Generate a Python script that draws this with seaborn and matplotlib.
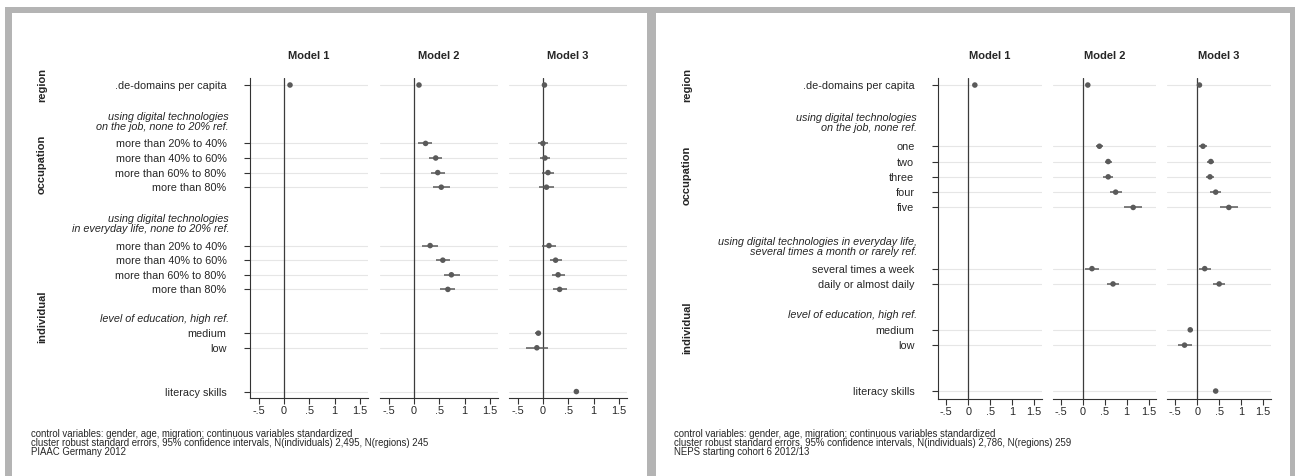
import numpy as np
import pandas as pd
import matplotlib
matplotlib.use("Agg")
import matplotlib.pyplot as plt
import matplotlib.transforms as mtransforms
from matplotlib.patches import Rectangle
import seaborn as sns

nan = np.nan

# =========================
# DATA - PIAAC Germany 2012 (left)
# =========================
piaac_labels = [".de-domains per capita",
                "more than 20% to 40%", "more than 40% to 60%", "more than 60% to 80%", "more than 80%",
                "more than 20% to 40%", "more than 40% to 60%", "more than 60% to 80%", "more than 80%",
                "medium", "low", "literacy skills"]
piaac_headings = ["using digital technologies\non the job, none to 20% ref.",
                  "using digital technologies\nin everyday life, none to 20% ref.",
                  "level of education, high ref."]
piaac_m1_coef = [0.12, nan, nan, nan, nan, nan, nan, nan, nan, nan, nan, nan]
piaac_m1_lo = [0.10, nan, nan, nan, nan, nan, nan, nan, nan, nan, nan, nan]
piaac_m1_hi = [0.14, nan, nan, nan, nan, nan, nan, nan, nan, nan, nan, nan]
piaac_m2_coef = [0.10, 0.23, 0.43, 0.47, 0.54, 0.32, 0.57, 0.74, 0.67, nan, nan, nan]
piaac_m2_lo = [0.08, 0.09, 0.30, 0.33, 0.37, 0.16, 0.43, 0.59, 0.51, nan, nan, nan]
piaac_m2_hi = [0.12, 0.36, 0.55, 0.61, 0.71, 0.47, 0.72, 0.90, 0.82, nan, nan, nan]
piaac_m3_coef = [0.03, 0.00, 0.04, 0.10, 0.07, 0.12, 0.25, 0.30, 0.33, -0.09, -0.12, 0.66]
piaac_m3_lo = [0.01, -0.09, -0.05, -0.01, -0.07, -0.01, 0.14, 0.17, 0.20, -0.16, -0.33, 0.63]
piaac_m3_hi = [0.05, 0.10, 0.13, 0.22, 0.22, 0.26, 0.37, 0.43, 0.47, -0.03, 0.10, 0.70]
piaac_note = ("control variables: gender, age, migration; continuous variables standardized\n"
              "cluster robust standard errors, 95% confidence intervals, N(individuals) 2,495, N(regions) 245\n"
              "PIAAC Germany 2012")

# =========================
# DATA - NEPS starting cohort 6 (right)
# =========================
neps_labels = [".de-domains per capita",
               "one", "two", "three", "four", "five",
               "several times a week", "daily or almost daily",
               "medium", "low", "literacy skills"]
neps_headings = ["using digital technologies\non the job, none ref.",
                 "using digital technologies in everyday life,\nseveral times a month or rarely ref.",
                 "level of education, high ref."]
neps_m1_coef = [0.15, nan, nan, nan, nan, nan, nan, nan, nan, nan, nan]
neps_m1_lo = [0.13, nan, nan, nan, nan, nan, nan, nan, nan, nan, nan]
neps_m1_hi = [0.17, nan, nan, nan, nan, nan, nan, nan, nan, nan, nan]
neps_m2_coef = [0.115, 0.38, 0.58, 0.58, 0.75, 1.15, 0.21, 0.69, nan, nan, nan]
neps_m2_lo = [0.09, 0.30, 0.50, 0.47, 0.62, 0.94, 0.05, 0.55, nan, nan, nan]
neps_m2_hi = [0.14, 0.46, 0.67, 0.69, 0.90, 1.36, 0.38, 0.83, nan, nan, nan]
neps_m3_coef = [0.05, 0.13, 0.31, 0.29, 0.42, 0.72, 0.17, 0.50, -0.16, -0.29, 0.42]
neps_m3_lo = [0.02, 0.05, 0.23, 0.20, 0.29, 0.52, 0.04, 0.37, -0.22, -0.45, 0.38]
neps_m3_hi = [0.08, 0.22, 0.39, 0.38, 0.55, 0.93, 0.31, 0.64, -0.10, -0.12, 0.46]
neps_note = ("control variables: gender, age, migration; continuous variables standardized\n"
             "cluster robust standard errors, 95% confidence intervals, N(individuals) 2,786, N(regions) 259\n"
             "NEPS starting cohort 6 2012/13")

group_names = ["region", "occupation", "individual"]
model_names = ["Model 1", "Model 2", "Model 3"]
xtick_vals = [-0.5, 0, 0.5, 1, 1.5]
xtick_labels = ["-.5", "0", ".5", "1", "1.5"]

# =========================
# LAYOUT (pixels / row slots)
# =========================
W, H = 1295, 476
piaac_rows = [0, 4, 5, 6, 7, 11, 12, 13, 14, 17, 18, 21]
piaac_head_rows = [2.5, 9.55, 16]
piaac_group_rows = [0, 5.4, 15.9]
neps_rows = [0, 4, 5, 6, 7, 8, 12, 13, 16, 17, 20]
neps_head_rows = [2.45, 10.6, 15]
neps_group_rows = [0, 5.9, 15.85]

sns.set_style("white")
plt.rcParams["font.family"] = ["Liberation Sans", "DejaVu Sans"]

DOT = "#5a5a5a"
fig = plt.figure(figsize=(W / 100, H / 100), dpi=100)

# gray frame like the screenshots
gray = "#b4b4b4"
for (x0, y0, x1, y1) in [(5, 7, 1295, 13), (5, 7, 12, 476), (647, 7, 656, 476), (1290, 7, 1295, 476)]:
    fig.add_artist(Rectangle((x0 / W, 1 - y1 / H), (x1 - x0) / W, (y1 - y0) / H,
                             transform=fig.transFigure, color=gray, lw=0, zorder=0))


def px_ax(left, top, width, bottom):
    return fig.add_axes([left / W, 1 - bottom / H, width / W, (bottom - top) / H])


def draw_panel(labels, headings, rows, head_rows, group_rows, models, lefts, width,
               top, bottom, ylim, xlim, group_x, note, note_x):
    for k, (coef, lo, hi) in enumerate(models):
        ax = px_ax(lefts[k], top, width, bottom)
        df = pd.DataFrame({"coef": coef, "lo": lo, "hi": hi, "row": rows}).dropna()
        ax.hlines(df["row"], df["lo"], df["hi"], color=DOT, lw=1.1, zorder=2)
        sns.scatterplot(data=df, x="coef", y="row", ax=ax, color=DOT, s=16,
                        edgecolor="none", legend=False, zorder=3)
        ax.axvline(0, color="#3c3c3c", lw=0.9, zorder=1)
        ax.set_xlim(*xlim)
        ax.set_ylim(*ylim)
        ax.set_xlabel("")
        ax.set_ylabel("")
        ax.set_yticks(rows)
        ax.yaxis.grid(True, color="#e6e6e6", lw=0.8)
        ax.set_axisbelow(True)
        ax.set_xticks(xtick_vals)
        ax.set_xticklabels(xtick_labels)
        ax.tick_params(axis="x", bottom=True, direction="out", length=4, width=0.8,
                       color="#333333", pad=2, labelsize=7.8)
        for s in ["top", "right"]:
            ax.spines[s].set_visible(False)
        ax.spines["bottom"].set_color("#333333")
        ax.spines["bottom"].set_linewidth(0.8)
        ax.text(0.5, 1 + (top - 56) / (bottom - top), model_names[k], transform=ax.transAxes,
                ha="center", va="center", fontsize=8, fontweight="bold")
        if k == 0:
            ax.spines["left"].set_color("#333333")
            ax.spines["left"].set_linewidth(0.8)
            ax.set_yticklabels(labels)
            ax.tick_params(axis="y", left=True, direction="out", length=4, width=0.8,
                           color="#333333", pad=13, labelsize=7.8)
            hx = -21 / width
            for txt, r in zip(headings, head_rows):
                ax.text(hx, r, txt, transform=mtransforms.blended_transform_factory(ax.transAxes, ax.transData),
                        ha="right", va="center", fontsize=7.8, style="italic", linespacing=1.0)
            tr = mtransforms.blended_transform_factory(fig.transFigure, ax.transData)
            for g, r in zip(group_names, group_rows):
                ax.text(group_x / W, r, g, transform=tr, rotation=90, ha="center", va="center",
                        fontsize=8, fontweight="bold")
        else:
            ax.spines["left"].set_visible(False)
            ax.tick_params(axis="y", left=False, labelleft=False)
    fig.text(note_x / W, 1 - 429 / H, note, ha="left", va="top", fontsize=6.9, linespacing=0.87)


draw_panel(piaac_labels, piaac_headings, piaac_rows, piaac_head_rows, piaac_group_rows,
           [(piaac_m1_coef, piaac_m1_lo, piaac_m1_hi),
            (piaac_m2_coef, piaac_m2_lo, piaac_m2_hi),
            (piaac_m3_coef, piaac_m3_lo, piaac_m3_hi)],
           lefts=[250, 380, 509], width=118, top=78, bottom=398,
           ylim=(21.44, -0.48), xlim=(-0.67, 1.66), group_x=42, note=piaac_note, note_x=31)

draw_panel(neps_labels, neps_headings, neps_rows, neps_head_rows, neps_group_rows,
           [(neps_m1_coef, neps_m1_lo, neps_m1_hi),
            (neps_m2_coef, neps_m2_lo, neps_m2_hi),
            (neps_m3_coef, neps_m3_lo, neps_m3_hi)],
           lefts=[938, 1052.5, 1167], width=103.5, top=78, bottom=399,
           ylim=(20.52, -0.46), xlim=(-0.69, 1.67), group_x=687, note=neps_note, note_x=674)

fig.savefig("out.png", dpi=100)
plt.close(fig)
